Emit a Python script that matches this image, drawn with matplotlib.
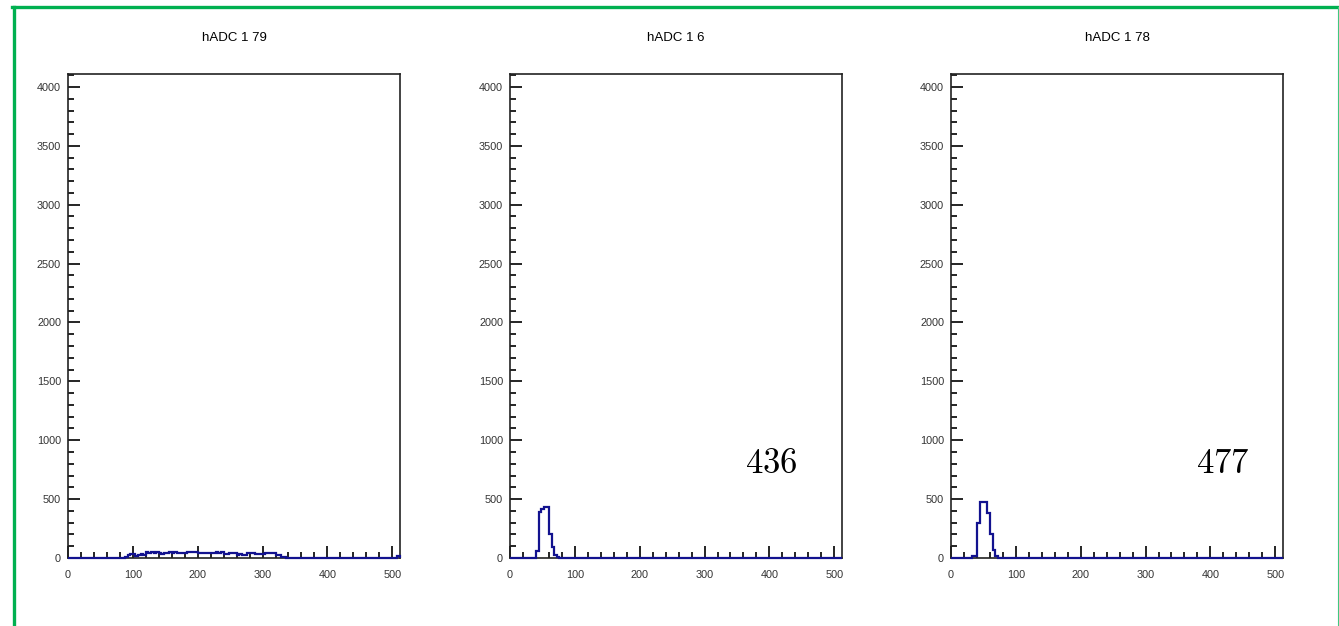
import numpy as np
import matplotlib.pyplot as plt
from matplotlib.lines import Line2D
from matplotlib.ticker import MultipleLocator

plt.rcParams['font.family'] = ['Liberation Sans', 'DejaVu Sans']
plt.rcParams['mathtext.fontset'] = 'cm'

# histogram settings: 128 bins of width 4 over 0..512
edges = np.arange(0, 513, 4)

titles = ['hADC 1 79', 'hADC 1 6', 'hADC 1 78']
labels = [None, '436', '477']
label_x = [None, 362, 378]

# counts per bin
counts_79 = ([0] * 22 +
             [10, 28, 33, 30, 20, 24, 31, 29,
              48, 45, 50, 46, 48, 40, 38, 42, 40, 48, 45, 47,
              42, 44, 41, 43, 54, 50, 47, 49, 46, 40, 41,
              40, 42, 39, 41, 48, 46, 47, 31, 33, 45, 44, 46,
              28, 30, 27, 29, 40, 39, 41, 38, 31, 32, 30,
              40, 41, 39, 40, 26, 25, 11, 5] +
             [0] * 43 + [20])
counts_6 = ([0] * 10 +
            [60, 390, 420, 436, 430, 200, 90, 25, 5] +
            [0] * 109)
counts_78 = ([0] * 8 +
             [15, 15, 293, 477, 477, 475, 380, 200, 70, 20] +
             [0] * 110)
all_counts = [counts_79, counts_6, counts_78]

W, H = 1339, 626
fig = plt.figure(figsize=(W / 100, H / 100), dpi=100)

lefts = [68, 510, 951]
for i in range(3):
    ax = fig.add_axes([lefts[i] / W, (H - 558) / H, 332 / W, 484 / H])
    ax.stairs(all_counts[i], edges, color='#12128f', linewidth=1.6,
              baseline=0, zorder=3, clip_on=False)
    ax.set_xlim(0, 512)
    ax.set_ylim(0, 4110)
    ax.xaxis.set_major_locator(MultipleLocator(100))
    ax.xaxis.set_minor_locator(MultipleLocator(20))
    ax.yaxis.set_major_locator(MultipleLocator(500))
    ax.yaxis.set_minor_locator(MultipleLocator(100))
    ax.tick_params(which='both', direction='in', width=1.2, colors='black',
                   labelcolor='#333333', labelsize=7.8)
    ax.tick_params(which='major', length=8.6)
    ax.tick_params(which='minor', length=4.3)
    ax.tick_params(axis='x', pad=9)
    ax.tick_params(axis='y', pad=5)
    for s in ax.spines.values():
        s.set_linewidth(1.2)
        s.set_color('#222222')
    ax.text(0.5, 1.074, titles[i], transform=ax.transAxes, ha='center',
            va='center', fontsize=9.5)
    if labels[i]:
        ax.text(label_x[i], 720, '$' + labels[i] + '$', fontsize=25,
                ha='left', va='baseline')

# green frame
green = '#00b050'
fig.add_artist(Line2D([13.5 / W, 13.5 / W], [0, (H - 6.5) / H], color=green,
                      linewidth=2.4, transform=fig.transFigure))
fig.add_artist(Line2D([12 / W, 1339 / W], [(H - 6.5) / H, (H - 6.5) / H], color=green,
                      linewidth=2.4, transform=fig.transFigure))
fig.add_artist(Line2D([1337.5 / W, 1337.5 / W], [0, (H - 6.5) / H], color='#40c880',
                      linewidth=0.8, transform=fig.transFigure))

fig.savefig('out.png', dpi=100)
